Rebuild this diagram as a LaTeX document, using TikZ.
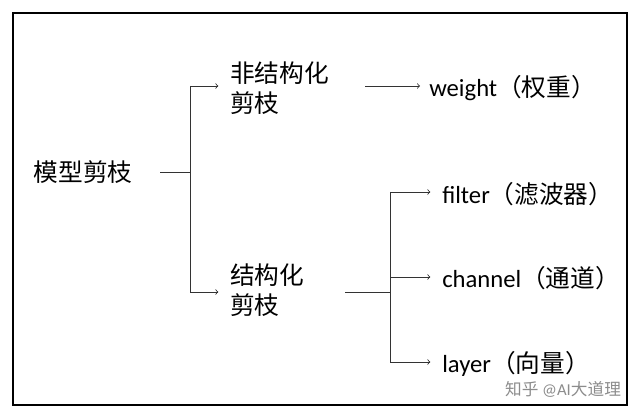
\documentclass[tikz,border=0pt]{standalone}
\usepackage{fontspec}
\setmainfont{Carlito}
\newfontfamily\cjk{Noto Sans CJK SC}
\usetikzlibrary{positioning}
\tikzset{
  lbl/.style={inner sep=0.75pt, font=\fontsize{18.5}{23}\selectfont, align=left},
  conn/.style={line width=0.6pt, black!80},
  arr/.style={conn, ->, >=to}
}
\begin{document}
\begin{tikzpicture}[x=0.75pt,y=0.75pt,yscale=-1,xscale=1]
\useasboundingbox (0,0) rectangle (639,416);

%Frame
\draw [line width=1pt] (13,13) rectangle (627,405) ;

% Text Node
\node [lbl] (root) at (83,172) {\cjk 模型剪枝};
% Text Node
\node [lbl, anchor=west] (uns) at (229,88) {\cjk 非结构化\\\cjk 剪枝};
% Text Node
\node [lbl, anchor=west] (str) at (229,290) {\cjk 结构化\\\cjk 剪枝};
% Text Node
\node [lbl, anchor=west] (wgt) at (428,88) {weight{\cjk （权重）}};
% Text Node
\node [lbl, anchor=west] (flt) at (441,194) {filter{\cjk （滤波器）}};
% Text Node
\node [lbl, anchor=west] (chn) at (441,278) {channel{\cjk （通道）}};
% Text Node
\node [lbl, anchor=west] (lyr) at (441,364) {layer{\cjk （向量）}};
% Text Node
\node [inner sep=0.75pt, text=black!45, font=\fontsize{12.5}{14}\selectfont] (mark) at (563,389) {{\cjk 知乎} @AI{\cjk 大道理}};

%Straight Lines
\coordinate (j1) at (190,172) ;
\coordinate (j1a) at (190,86) ;
\coordinate (j1b) at (190,292) ;
\draw [conn] (160,172) -- (j1) ;
\draw [conn] (j1a) -- (j1b) ;
\draw [arr] (j1a) -- ([xshift=-8]uns.west |- j1a) ;
\draw [arr] (j1b) -- ([xshift=-8]str.west |- j1b) ;
%Straight Lines
\coordinate (s1) at (365,86) ;
\draw [arr] (s1) -- (420,86) ;
%Straight Lines
\coordinate (j2) at (390,292) ;
\coordinate (j2a) at (390,192) ;
\coordinate (j2b) at (390,277) ;
\coordinate (j2c) at (390,362) ;
\draw [conn] (345,292) -- (j2) ;
\draw [conn] (j2a) -- (j2c) ;
\draw [arr] (j2a) -- ([xshift=-8]flt.west |- j2a) ;
\draw [arr] (j2b) -- ([xshift=-8]chn.west |- j2b) ;
\draw [arr] (j2c) -- ([xshift=-8]lyr.west |- j2c) ;

\end{tikzpicture}
\end{document}
